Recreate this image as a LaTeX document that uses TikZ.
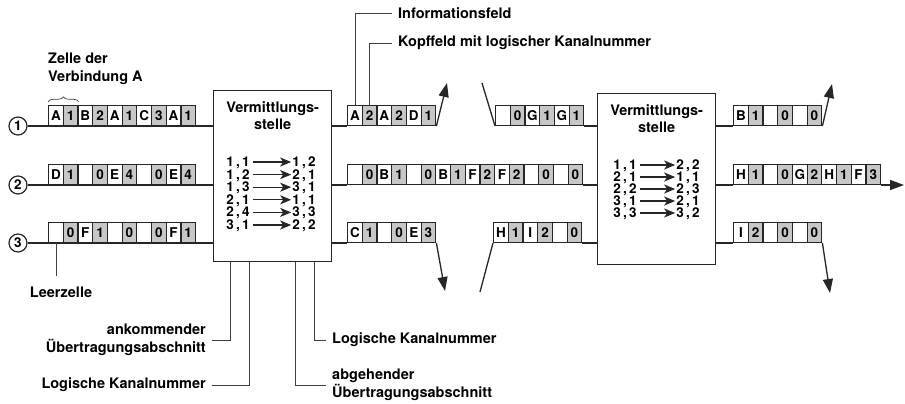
\documentclass[tikz,border=0pt]{standalone}
\usepackage{fontspec}
\setmainfont{TeX Gyre Heros}
\usetikzlibrary{arrows.meta,positioning,decorations.pathreplacing}

\newcommand\lblfont{\fontsize{14.5}{17.5}\selectfont\bfseries}
\newcommand\cellfont{\fontsize{13.5}{13.5}\selectfont\bfseries}
\newcommand\tabfont{\fontsize{13.5}{13.5}\selectfont\bfseries}

\tikzset{
  wire/.style={line width=1.3pt, draw=black!85},
  arr/.style={wire, -{Triangle[length=14pt,width=10pt]}},
  lead/.style={line width=0.7pt, draw=black!75},
  cellbox/.style={draw=black!85, line width=1.2pt, minimum width=14.7pt,
    minimum height=20pt, inner sep=0pt, anchor=south west, font=\cellfont},
  info/.style={cellbox, fill=white},
  hdr/.style={cellbox, fill=black!22},
  num/.style={circle, draw=black!85, line width=1.2pt, minimum size=18pt,
    inner sep=0pt, font=\cellfont},
  switchbox/.style={draw=black!85, line width=1.3pt, minimum width=118pt,
    minimum height=171pt, anchor=north west},
  title/.style={font=\lblfont, align=center, inner sep=2pt, anchor=north},
  tab/.style={font=\tabfont, inner sep=1pt, text height=9pt, text depth=0pt},
  maparr/.style={line width=1.2pt, draw=black!85, shorten <=2pt,
    -{Stealth[length=11pt,width=9pt,inset=3pt]}},
  lbl/.style={font=\lblfont, inner xsep=6pt, inner ysep=1pt},
}

% a row of cells: name, x, y of the line, entries
\newcommand\cellrow[4]{%
  \foreach \t [count=\k] in {#4} {
    \ifodd\k\relax
      \node[info] (#1-\k) at ({#2+14.7*(\k-1)},#3) {\t};
    \else
      \node[hdr] (#1-\k) at ({#2+14.7*(\k-1)},#3) {\t};
    \fi
  }%
}

\begin{document}
\begin{tikzpicture}[x=1pt, y=-1pt]
  \useasboundingbox (0,0) rectangle (905,404);

  % input lines
  \node[num] (n1) at (18,126) {1};
  \node[num] (n2) at (18,185) {2};
  \node[num] (n3) at (18,243) {3};

  % switching nodes
  \node[switchbox] (sw1) at (213,90) {};
  \node[title, below=9pt of sw1.north] (h1) {Vermittlungs-\\stelle};
  \node[switchbox] (sw2) at (597,93) {};
  \node[title, below=9pt of sw2.north] (h2) {Vermittlungs-\\stelle};

  % translation tables
  \foreach \a/\b/\c/\d [count=\k] in {1/1/1/2, 1/2/2/1, 1/3/3/1, 2/1/1/1, 2/4/3/3, 3/1/2/2} {
    \node[tab] (m1-\k-l) at (238,{162+12.6*(\k-1)}) {\a\,,\,\b};
    \node[tab] (m1-\k-r) at (304,{162+12.6*(\k-1)}) {\c\,,\,\d};
    \draw[maparr] (m1-\k-l) -- (m1-\k-r);
  }
  \foreach \a/\b/\c/\d [count=\k] in {1/1/2/2, 2/1/1/1, 2/2/2/3, 3/1/2/1, 3/3/3/2} {
    \node[tab] (m2-\k-l) at (625,{165+12*(\k-1)}) {\a\,,\,\b};
    \node[tab] (m2-\k-r) at (688,{165+12*(\k-1)}) {\c\,,\,\d};
    \draw[maparr] (m2-\k-l) -- (m2-\k-r);
  }

  % cell streams
  \cellrow{r1}{48}{126}{A,1,B,2,A,1,C,3,A,1}
  \cellrow{r2}{48}{185}{D,1,{},0,E,4,{},0,E,4}
  \cellrow{r3}{48}{243}{{},0,F,1,{},0,{},0,F,1}
  \cellrow{a1}{347}{126}{A,2,A,2,D,1}
  \cellrow{b1}{495}{126}{{},0,G,1,G,1}
  \cellrow{a2}{347}{185}{{},0,B,1,{},0,B,1,F,2,F,2,{},0,{},0}
  \cellrow{a3}{347}{243}{C,1,{},0,E,3}
  \cellrow{b3}{493}{243}{H,1,I,2,{},0}
  \cellrow{c1}{733}{126}{B,1,{},0,{},0}
  \cellrow{c2}{733}{185}{H,1,{},0,G,2,H,1,F,3}
  \cellrow{c3}{733}{243}{I,2,{},0,{},0}

  % free ends of the cut lines
  \coordinate (t1a) at (447,83);
  \coordinate (t1b) at (482,83);
  \coordinate (t3a) at (445,291);
  \coordinate (t3b) at (480,292);
  \coordinate (t5) at (832,84);
  \coordinate (t6) at (904,185);
  \coordinate (t7) at (830,293);

  % lines
  \draw[wire] (n1) -- (n1 -| sw1.west);
  \draw[wire] (n2) -- (n2 -| sw1.west);
  \draw[wire] (n3) -- (n3 -| sw1.west);
  \draw[wire] (sw1.east |- n1) -- (a1-1.south west);
  \draw[arr] (a1-6.south east) -- (t1a);
  \draw[wire] (t1b) -- (b1-1.south west);
  \draw[wire] (b1-6.south east) -- (b1-6.south east -| sw2.west);
  \draw[wire] (sw1.east |- n2) -- (a2-1.south west);
  \draw[wire] (a2-16.south east) -- (a2-16.south east -| sw2.west);
  \draw[wire] (sw1.east |- n3) -- (a3-1.south west);
  \draw[arr] (a3-6.south east) -- (t3a);
  \draw[wire] (t3b) -- (b3-1.south west);
  \draw[wire] (b3-6.south east) -- (b3-6.south east -| sw2.west);
  \draw[wire] (sw2.east |- n1) -- (c1-1.south west);
  \draw[arr] (c1-6.south east) -- (t5);
  \draw[wire] (sw2.east |- n2) -- (c2-1.south west);
  \draw[arr] (c2-10.south east) -- (t6);
  \draw[wire] (sw2.east |- n3) -- (c3-1.south west);
  \draw[arr] (c3-6.south east) -- (t7);

  % labels
  \node[lbl, anchor=north west, align=left] (zelle) at (42,52) {Zelle der\\Verbindung A};
  \draw[lead, decorate, decoration={brace, amplitude=5pt}]
    ([yshift=3pt]r1-1.north west) -- ([yshift=3pt]r1-2.north east);
  \node[lbl, anchor=west] (infofeld) at (392,13) {Informationsfeld};
  \node[lbl, anchor=west] (kopf) at (392,43) {Kopffeld mit logischer Kanalnummer};
  \draw[lead] (a1-1.north) |- (infofeld.west);
  \draw[lead] (a1-2.north) |- (kopf.west);
  \node[lbl, anchor=north] (leer) at (61,286) {Leerzelle};
  \draw[lead, shorten >=10pt] (r3-1.south) -- (r3-1.south |- leer.north);

  \node[lbl, anchor=east, align=right] (ank) at (212,340) {ankommender\\Übertragungsabschnitt};
  \node[lbl, anchor=east] (lkn1) at (212,385) {Logische Kanalnummer};
  \node[lbl, anchor=west] (lkn2) at (326,340) {Logische Kanalnummer};
  \node[lbl, anchor=west, align=left] (abg) at (326,385) {abgehender\\Übertragungsabschnitt};
  \draw[lead] ([xshift=17pt]sw1.south west) |- (ank.east);
  \draw[lead] ([xshift=36pt]sw1.south west) |- (lkn1.east);
  \draw[lead] ([xshift=-37pt]sw1.south east) |- (abg.west);
  \draw[lead] ([xshift=-18pt]sw1.south east) |- (lkn2.west);
\end{tikzpicture}
\end{document}
